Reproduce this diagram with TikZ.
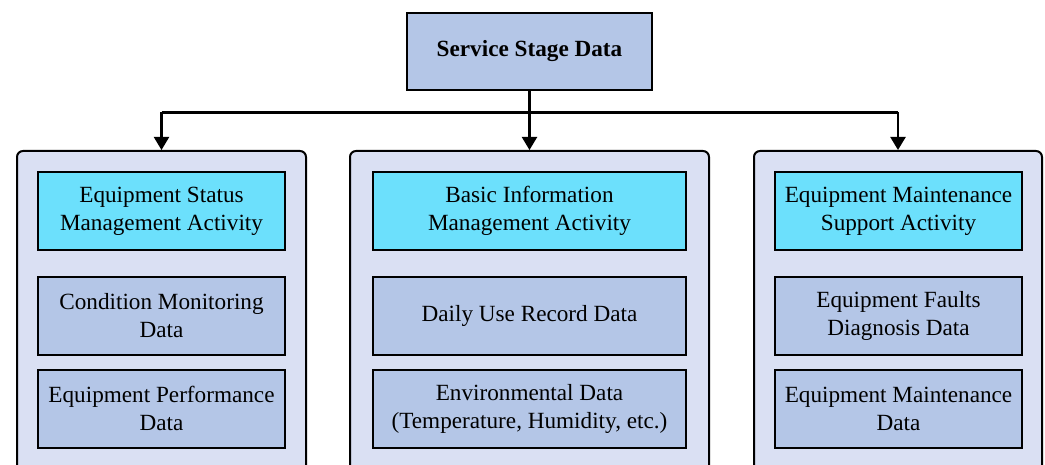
\documentclass[tikz,border=0pt]{standalone}
\usepackage{fontspec}
\setmainfont{Liberation Serif}
\usetikzlibrary{arrows.meta}
\definecolor{headfill}{HTML}{B4C6E7}
\definecolor{panelfill}{HTML}{DAE0F3}
\definecolor{activityfill}{HTML}{6CE0FC}
\definecolor{datafill}{HTML}{B4C6E7}
\tikzset{
  txt/.style={font=\fontsize{23.2}{28}\selectfont, align=center, text=black},
  headbox/.style={draw=black, line width=2pt, fill=headfill, minimum width=245pt, minimum height=77pt, inner sep=0pt, font=\fontsize{23.2}{28}\selectfont\bfseries},
  panel/.style={draw=black, line width=2pt, fill=panelfill, rounded corners=6pt, anchor=north, minimum height=340pt, inner sep=0pt},
  activity/.style={txt, draw=black, line width=2pt, fill=activityfill, minimum height=78pt, inner sep=0pt},
  databox/.style={txt, draw=black, line width=2pt, fill=datafill, minimum height=78pt, inner sep=0pt},
  link/.style={line width=2.2pt, draw=black},
  arrowlink/.style={link, -{Triangle[width=15pt,length=13pt]}}
}
\begin{document}
\begin{tikzpicture}[x=1pt,y=-1pt]
  \useasboundingbox (0,0) rectangle (1045,465);
  \clip (0,0) rectangle (1045,465);
  \fill[white] (0,0) rectangle (1045,465);

  % root
  \node[headbox] (root) at (529.5,51.5) {Service Stage Data};

  % three groups
  \node[panel, minimum width=289pt] (pL) at (161.5,150) {};
  \node[panel, minimum width=359pt] (pM) at (529.5,150) {};
  \node[panel, minimum width=288pt] (pR) at (898,150) {};

  % left group
  \node[activity, minimum width=247pt] (aL) at (161.5,211) {Equipment Status\\Management Activity};
  \node[databox, minimum width=247pt] (dL1) at (161.5,316) {Condition Monitoring\\Data};
  \node[databox, minimum width=247pt] (dL2) at (161.5,408.5) {Equipment Performance\\Data};

  % middle group
  \node[activity, minimum width=313pt] (aM) at (529.5,211) {Basic Information\\Management Activity};
  \node[databox, minimum width=313pt] (dM1) at (529.5,316) {Daily Use Record Data};
  \node[databox, minimum width=313pt] (dM2) at (529.5,408.5) {Environmental Data\\(Temperature, Humidity, etc.)};

  % right group
  \node[activity, minimum width=247pt] (aR) at (898.5,211) {Equipment Maintenance\\Support Activity};
  \node[databox, minimum width=247pt] (dR1) at (898.5,316) {Equipment Faults\\Diagnosis Data};
  \node[databox, minimum width=247pt] (dR2) at (898.5,408.5) {Equipment Maintenance\\Data};

  % distribution bus
  \coordinate (jM) at (root.south |- 0,112.5);
  \coordinate (jL) at (pL.north |- jM);
  \coordinate (jR) at (pR.north |- jM);
  \draw[link] (jL) -- (jR);
  \draw[arrowlink] (root.south) -- (pM.north);
  \draw[arrowlink] (jL) -- (pL.north);
  \draw[arrowlink] (jR) -- (pR.north);
\end{tikzpicture}
\end{document}
